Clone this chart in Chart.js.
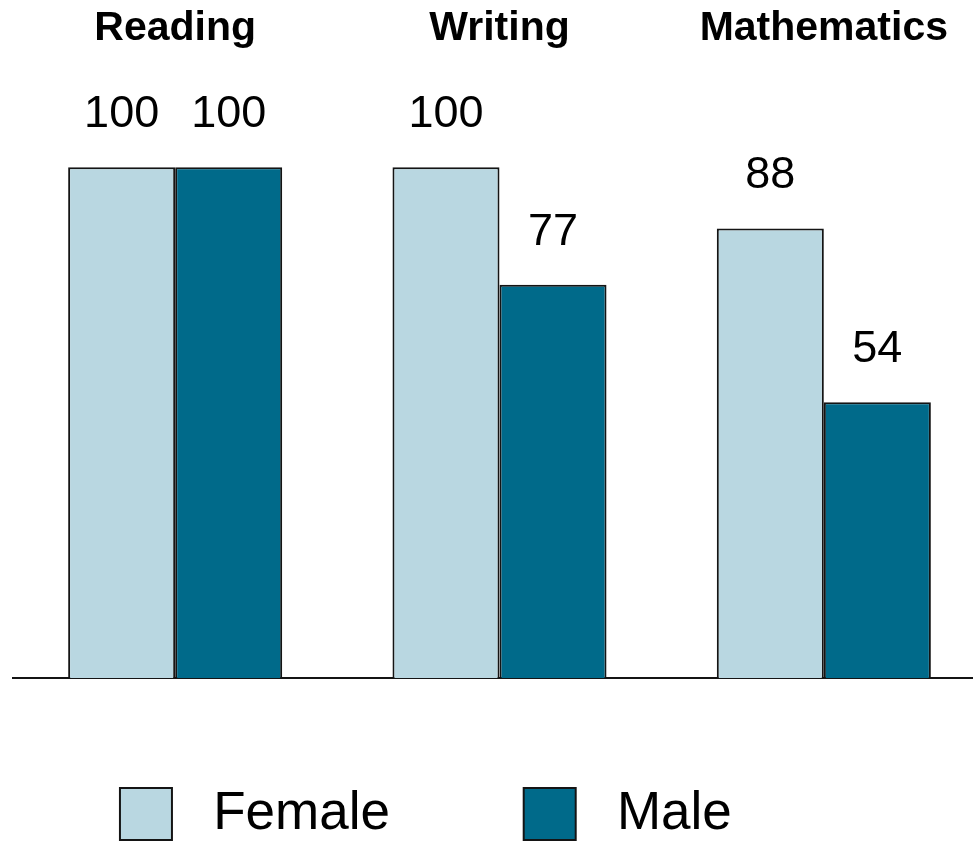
<!DOCTYPE html>
<html lang="en">
    <head>
        <meta charset="utf-8" />
        <title>Reading / Writing / Mathematics</title>
        <script src="https://cdn.jsdelivr.net/npm/chart.js@4.4.1/dist/chart.umd.min.js"></script>
        <style>
            html,
            body {
                margin: 0;
                padding: 0;
                background: #ffffff;
                overflow: hidden;
            }
            #wrap {
                width: 990px;
                height: 860px;
            }
        </style>
    </head>
    <body>
        <div id="wrap">
            <canvas id="chart" width="990" height="860"></canvas>
        </div>

        <script>
            const subjects = ["Reading", "Writing", "Mathematics"];
            const seriesNames = ["Female", "Male"];
            const femaleValues = [100, 100, 88];
            const maleValues = [100, 77, 54];

            const FONT = "'Liberation Sans', Arial, sans-serif";

            // value above each bar
            const valueLabels = {
                id: "valueLabels",
                afterDatasetsDraw(chart) {
                    const ctx = chart.ctx;
                    ctx.save();
                    ctx.font = "45px " + FONT;
                    ctx.fillStyle = "#000000";
                    ctx.textAlign = "center";
                    ctx.textBaseline = "alphabetic";
                    chart.data.datasets.forEach((ds, i) => {
                        chart.getDatasetMeta(i).data.forEach((bar, j) => {
                            ctx.fillText(String(ds.data[j]), bar.x, bar.y - 40);
                        });
                    });
                    ctx.restore();
                },
            };

            // spacing in the legend text (trailing spaces per item)
            const legendTrail = [8, 10];

            new Chart(document.getElementById("chart"), {
                type: "bar",
                data: {
                    labels: subjects,
                    datasets: [
                        {
                            label: seriesNames[0],
                            data: femaleValues,
                            backgroundColor: "#b9d7e1",
                            borderColor: "#141414",
                            borderWidth: 2,
                            xAxisID: "x",
                        },
                        {
                            label: seriesNames[1],
                            data: maleValues,
                            backgroundColor: "#006a8a",
                            borderColor: "#141414",
                            borderWidth: 2,
                            xAxisID: "x",
                        },
                    ],
                },
                options: {
                    responsive: false,
                    animation: false,
                    layout: {
                        padding: { top: 4, left: 13, right: 4, bottom: 9.5 },
                    },
                    datasets: {
                        bar: { categoryPercentage: 0.66, barPercentage: 1.0 },
                    },
                    plugins: {
                        tooltip: { enabled: false },
                        legend: {
                            position: "bottom",
                            labels: {
                                boxWidth: 52,
                                boxHeight: 52,
                                padding: 16,
                                color: "#000000",
                                font: { family: FONT, size: 53 },
                                generateLabels: (chart) =>
                                    chart.data.datasets.map((ds, i) => ({
                                        text:
                                            " " +
                                            ds.label +
                                            " ".repeat(legendTrail[i]),
                                        fillStyle: ds.backgroundColor,
                                        strokeStyle: "#141414",
                                        lineWidth: 2,
                                        datasetIndex: i,
                                        hidden: false,
                                    })),
                            },
                        },
                    },
                    scales: {
                        x: {
                            position: "top",
                            grid: { display: false, drawTicks: false },
                            border: { display: false },
                            ticks: {
                                padding: 0,
                                color: "#000000",
                                font: { family: FONT, size: 41, weight: "bold" },
                            },
                        },
                        xb: {
                            type: "category",
                            position: "bottom",
                            labels: subjects,
                            grid: { display: false, drawTicks: false },
                            border: { display: true, color: "#141414", width: 2 },
                            ticks: { display: false },
                            afterFit: (scale) => {
                                scale.height = 93.5;
                            },
                        },
                        y: {
                            display: false,
                            min: 0,
                            max: 122.3,
                        },
                    },
                },
                plugins: [valueLabels],
            });
        </script>
    </body>
</html>
